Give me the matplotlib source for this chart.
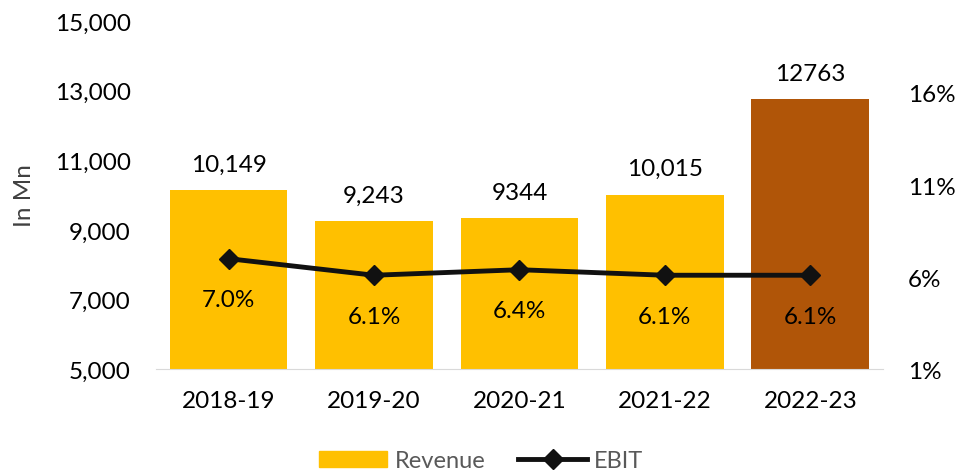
import matplotlib.pyplot as plt
from matplotlib.ticker import FuncFormatter
from matplotlib.patches import Patch

plt.rcParams['font.family'] = ['Lato', 'DejaVu Sans']

years = ['2018-19', '2019-20', '2020-21', '2021-22', '2022-23']
revenue = [10149, 9243, 9344, 10015, 12763]
revenue_labels = ['10,149', '9,243', '9344', '10,015', '12763']
ebit = [0.070, 0.061, 0.064, 0.061, 0.061]
bar_colors = ['#FFC000', '#FFC000', '#FFC000', '#FFC000', '#B05508']

fig, ax = plt.subplots(figsize=(9.62, 4.77), dpi=100)
fig.subplots_adjust(left=0.162, right=0.918, top=0.954, bottom=0.224)

x = range(len(years))
ax.bar(x, revenue, width=0.81, color=bar_colors, zorder=2)
ax.set_ylim(5000, 15000)
ax.set_xlim(-0.5, 4.5)
ax.set_yticks(range(5000, 15001, 2000))
ax.yaxis.set_major_formatter(FuncFormatter(lambda v, p: f'{int(v):,}'))
ax.set_xticks(list(x))
ax.set_xticklabels(years)
ax.tick_params(axis='both', length=0, labelsize=17.5, colors='#000000')
ax.tick_params(axis='x', pad=15)
ax.tick_params(axis='y', pad=18)
ax.set_ylabel('In Mn', fontsize=17.5, color='#404040', labelpad=14)
for s in ['top', 'right', 'left']:
    ax.spines[s].set_visible(False)
ax.spines['bottom'].set_color('#D9D9D9')

for i, v in enumerate(revenue):
    ax.annotate(revenue_labels[i], (i, v), xytext=(0, 11), textcoords='offset points',
                ha='center', va='bottom', fontsize=17.5)

ax2 = ax.twinx()
line, = ax2.plot(list(x), ebit, color='#111111', lw=3.5, marker='D', markersize=10, zorder=3)
ax2.set_ylim(0.01, 0.1991)
ax2.set_yticks([0.01, 0.06, 0.11, 0.16])
ax2.yaxis.set_major_formatter(FuncFormatter(lambda v, p: f'{v*100:.0f}%'))
ax2.tick_params(axis='y', length=0, labelsize=17.5, pad=18)
for s in ['top', 'right', 'left', 'bottom']:
    ax2.spines[s].set_visible(False)

for i, v in enumerate(ebit):
    ax2.annotate(f'{v*100:.1f}%', (i, v), xytext=(0, -29.5), textcoords='offset points',
                 ha='center', va='center', fontsize=17.5)

handles = [Patch(color='#FFC000'), line]
leg = fig.legend(handles, ['Revenue', 'EBIT'], loc='lower center', ncol=2,
                 bbox_to_anchor=(0.5, -0.035), frameon=False, fontsize=17,
                 handlelength=2.9, handleheight=0.7, columnspacing=1.4, handletextpad=0.3)
for t in leg.get_texts():
    t.set_color('#595959')

plt.savefig('out.png', dpi=100)
